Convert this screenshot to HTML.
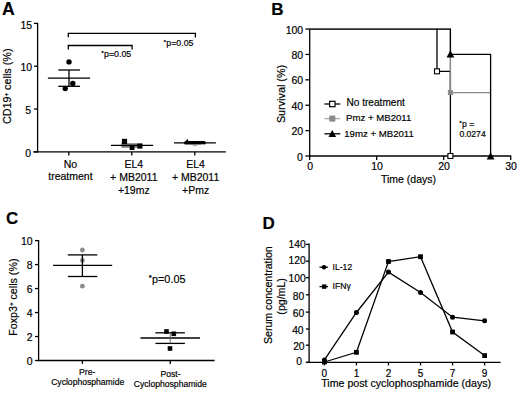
<!DOCTYPE html>
<html><head><meta charset="utf-8"><style>
html,body{margin:0;padding:0;background:#fff;}
svg{display:block;font-family:"Liberation Sans", sans-serif;}
text{stroke:#000;stroke-width:0.18px;}
</style></head><body>
<svg width="520" height="393" viewBox="0 0 520 393">
<rect width="520" height="393" fill="#fff"/>
<text x="1.9" y="14.8" font-size="17.6" text-anchor="start" font-weight="bold" fill="#000" >A</text>
<line x1="37.6" y1="22.800000000000004" x2="37.6" y2="152.5" stroke="#000" stroke-width="1.3"/>
<line x1="34.0" y1="151.9" x2="37.6" y2="151.9" stroke="#000" stroke-width="1.3"/>
<text x="31.200000000000003" y="157.0" font-size="10.5" text-anchor="end" font-weight="normal" fill="#000" >0</text>
<line x1="34.0" y1="109.06666666666668" x2="37.6" y2="109.06666666666668" stroke="#000" stroke-width="1.3"/>
<text x="31.200000000000003" y="114.16666666666667" font-size="10.5" text-anchor="end" font-weight="normal" fill="#000" >5</text>
<line x1="34.0" y1="66.23333333333335" x2="37.6" y2="66.23333333333335" stroke="#000" stroke-width="1.3"/>
<text x="32.1" y="71.33333333333334" font-size="10.5" text-anchor="end" font-weight="normal" fill="#000" >10</text>
<line x1="34.0" y1="23.400000000000006" x2="37.6" y2="23.400000000000006" stroke="#000" stroke-width="1.3"/>
<text x="32.1" y="28.500000000000007" font-size="10.5" text-anchor="end" font-weight="normal" fill="#000" >15</text>
<line x1="33.2" y1="151.9" x2="225.8" y2="151.9" stroke="#000" stroke-width="1.3"/>
<line x1="68.8" y1="151.9" x2="68.8" y2="155.5" stroke="#000" stroke-width="1.3"/>
<line x1="131.8" y1="151.9" x2="131.8" y2="155.5" stroke="#000" stroke-width="1.3"/>
<line x1="194.8" y1="151.9" x2="194.8" y2="155.5" stroke="#000" stroke-width="1.3"/>
<text transform="translate(11.3,86.3) rotate(-90)" font-size="10.8" text-anchor="middle" fill="#000">CD19<tspan font-size="6.2" dy="-3.2" font-weight="bold">+</tspan><tspan dy="3.2"> cells (%)</tspan></text>
<text x="70.4" y="167.8" font-size="10.5" text-anchor="middle" font-weight="normal" fill="#000" >No</text>
<text x="70.4" y="180.3" font-size="10.5" text-anchor="middle" font-weight="normal" fill="#000" >treatment</text>
<text x="133.8" y="168.1" font-size="10.5" text-anchor="middle" font-weight="normal" fill="#000" >EL4</text>
<text x="133.8" y="181.2" font-size="10.5" text-anchor="middle" font-weight="normal" fill="#000" >+ MB2011</text>
<text x="133.8" y="193.8" font-size="10.5" text-anchor="middle" font-weight="normal" fill="#000" >+19mz</text>
<text x="195.6" y="168.1" font-size="10.5" text-anchor="middle" font-weight="normal" fill="#000" >EL4</text>
<text x="195.6" y="181.2" font-size="10.5" text-anchor="middle" font-weight="normal" fill="#000" >+ MB2011</text>
<text x="195.6" y="193.8" font-size="10.5" text-anchor="middle" font-weight="normal" fill="#000" >+Pmz</text>
<line x1="47.9" y1="78.2" x2="90.1" y2="78.2" stroke="#000" stroke-width="1.3"/>
<line x1="58.3" y1="70" x2="80" y2="70" stroke="#000" stroke-width="1.3"/>
<line x1="58.3" y1="86.3" x2="80" y2="86.3" stroke="#000" stroke-width="1.3"/>
<line x1="69" y1="70" x2="69" y2="86.3" stroke="#000" stroke-width="1.3"/>
<circle cx="69" cy="61.9" r="2.7" fill="#000"/>
<circle cx="72.8" cy="83.5" r="2.7" fill="#000"/>
<circle cx="65.2" cy="88.6" r="2.7" fill="#000"/>
<rect x="121.4" y="143.5" width="21" height="4" fill="#222"/>
<line x1="121.4" y1="144.3" x2="142.4" y2="144.3" stroke="#ddd" stroke-width="0.6"/>
<line x1="121.4" y1="146.7" x2="142.4" y2="146.7" stroke="#ddd" stroke-width="0.6"/>
<line x1="111" y1="145.4" x2="153.2" y2="145.4" stroke="#000" stroke-width="1.3"/>
<rect x="121.9" y="138.8" width="5.2" height="5.2" fill="#000" stroke="#000" stroke-width="0"/>
<rect x="129.7" y="145.2" width="4.8" height="4.8" fill="#000" stroke="#000" stroke-width="0"/>
<rect x="137.3" y="143.6" width="5.0" height="5.0" fill="#000" stroke="#000" stroke-width="0"/>
<line x1="174" y1="142.9" x2="215.9" y2="142.9" stroke="#000" stroke-width="1.3"/>
<rect x="184" y="141.1" width="21.8" height="3.5" rx="1.7" fill="#000"/>
<polygon points="185.6,141.6 188.8,141.6 187.2,138.7" fill="#000"/>
<line x1="192.8" y1="145.6" x2="196.6" y2="145.6" stroke="#aaa" stroke-width="1.2"/>
<line x1="200.8" y1="144.6" x2="204.2" y2="144.6" stroke="#bbb" stroke-width="1.0"/>
<polyline points="68.3,37.3 68.3,33.3 195.4,33.3 195.4,37.5" fill="none" stroke="#000" stroke-width="1.3" stroke-linejoin="miter"/>
<polyline points="68.3,49.5 68.3,45.5 132.1,45.5 132.1,49.5" fill="none" stroke="#000" stroke-width="1.3" stroke-linejoin="miter"/>
<text x="101.6" y="57.0" font-size="8.8" fill="#000"><tspan font-size="5.28" dy="-1.94" font-weight="bold">*</tspan><tspan dy="1.94" dx="0.44">p=0.05</tspan></text>
<text x="163.8" y="45.5" font-size="8.8" fill="#000"><tspan font-size="5.28" dy="-1.94" font-weight="bold">*</tspan><tspan dy="1.94" dx="0.44">p=0.05</tspan></text>
<text x="271.2" y="15" font-size="17" text-anchor="start" font-weight="bold" fill="#000" >B</text>
<line x1="309.7" y1="28.449999999999996" x2="309.7" y2="156.6" stroke="#000" stroke-width="1.3"/>
<line x1="305.4" y1="156.0" x2="309.7" y2="156.0" stroke="#000" stroke-width="1.3"/>
<text x="302.8" y="160.6" font-size="10.5" text-anchor="end" font-weight="normal" fill="#000" >0</text>
<line x1="305.4" y1="130.61" x2="309.7" y2="130.61" stroke="#000" stroke-width="1.3"/>
<text x="303.2" y="135.21" font-size="10.5" text-anchor="end" font-weight="normal" fill="#000" >20</text>
<line x1="305.4" y1="105.22" x2="309.7" y2="105.22" stroke="#000" stroke-width="1.3"/>
<text x="303.2" y="109.82" font-size="10.5" text-anchor="end" font-weight="normal" fill="#000" >40</text>
<line x1="305.4" y1="79.83" x2="309.7" y2="79.83" stroke="#000" stroke-width="1.3"/>
<text x="303.2" y="84.42999999999999" font-size="10.5" text-anchor="end" font-weight="normal" fill="#000" >60</text>
<line x1="305.4" y1="54.44" x2="309.7" y2="54.44" stroke="#000" stroke-width="1.3"/>
<text x="303.2" y="59.04" font-size="10.5" text-anchor="end" font-weight="normal" fill="#000" >80</text>
<line x1="305.4" y1="29.049999999999997" x2="309.7" y2="29.049999999999997" stroke="#000" stroke-width="1.3"/>
<text x="303.2" y="33.65" font-size="10.5" text-anchor="end" font-weight="normal" fill="#000" >100</text>
<line x1="309.09999999999997" y1="156.0" x2="511.2" y2="156.0" stroke="#000" stroke-width="1.3"/>
<line x1="309.7" y1="156.0" x2="309.7" y2="159.9" stroke="#000" stroke-width="1.3"/>
<text x="310.09999999999997" y="170.1" font-size="10.5" text-anchor="middle" font-weight="normal" fill="#000" >0</text>
<line x1="376.7" y1="156.0" x2="376.7" y2="159.9" stroke="#000" stroke-width="1.3"/>
<text x="377.09999999999997" y="170.1" font-size="10.5" text-anchor="middle" font-weight="normal" fill="#000" >10</text>
<line x1="443.7" y1="156.0" x2="443.7" y2="159.9" stroke="#000" stroke-width="1.3"/>
<text x="444.09999999999997" y="170.1" font-size="10.5" text-anchor="middle" font-weight="normal" fill="#000" >20</text>
<line x1="510.7" y1="156.0" x2="510.7" y2="159.9" stroke="#000" stroke-width="1.3"/>
<text x="511.09999999999997" y="170.1" font-size="10.5" text-anchor="middle" font-weight="normal" fill="#000" >30</text>
<text x="381" y="182.6" font-size="10.5" text-anchor="start" font-weight="normal" fill="#000" >Time (days)</text>
<text transform="translate(284.6,94) rotate(-90)" font-size="10.8" text-anchor="middle" fill="#000">Survival (%)</text>
<polyline points="309.7,29.049999999999997 450.4,29.049999999999997 450.4,92.525 490.6,92.525" fill="none" stroke="#8a8a8a" stroke-width="1.3" stroke-linejoin="miter"/>
<polyline points="437.0,29.049999999999997 450.4,29.049999999999997 450.4,54.44 490.6,54.44 490.6,156.0" fill="none" stroke="#000" stroke-width="1.3" stroke-linejoin="miter"/>
<polyline points="309.7,29.049999999999997 437.0,29.049999999999997 437.0,71.32435 450.4,71.32435 450.4,156.0" fill="none" stroke="#000" stroke-width="1.3" stroke-linejoin="miter"/>
<line x1="450.4" y1="54.44" x2="450.4" y2="92.525" stroke="#8a8a8a" stroke-width="1.3"/>
<rect x="447.9" y="90.025" width="5" height="5" fill="#8a8a8a" stroke="#8a8a8a" stroke-width="0"/>
<polygon points="446.5,57.44 454.29999999999995,57.44 450.4,50.239999999999995" fill="#000"/>
<polygon points="486.70000000000005,159.4 494.5,159.4 490.6,152.20000000000002" fill="#000"/>
<rect x="434.5" y="68.82435" width="5" height="5" fill="#fff" stroke="#000" stroke-width="1.1"/>
<rect x="447.9" y="153.5" width="5" height="5" fill="#fff" stroke="#000" stroke-width="1.1"/>
<line x1="324.4" y1="104" x2="340.3" y2="104" stroke="#000" stroke-width="1.3"/>
<rect x="329.6" y="101.3" width="5.4" height="5.4" fill="#fff" stroke="#000" stroke-width="1.2"/>
<line x1="324.4" y1="118.6" x2="340.3" y2="118.6" stroke="#aaa" stroke-width="1.3"/>
<rect x="329.3" y="115.6" width="6" height="6" fill="#8a8a8a" stroke="#8a8a8a" stroke-width="0"/>
<line x1="324.4" y1="133.8" x2="340.3" y2="133.8" stroke="#000" stroke-width="1.3"/>
<polygon points="328.5,137.10000000000002 336.1,137.10000000000002 332.3,130.10000000000002" fill="#000"/>
<text x="346.5" y="105.9" font-size="10.1" text-anchor="start" font-weight="normal" fill="#000" >No treatment</text>
<text x="346.0" y="120.9" font-size="9.65" text-anchor="start" font-weight="normal" fill="#000" >Pmz + MB2011</text>
<text x="344.2" y="136.9" font-size="9.65" text-anchor="start" font-weight="normal" fill="#000" >19mz + MB2011</text>
<text x="459.6" y="127" font-size="8.6" fill="#000"><tspan font-size="5.16" dy="-1.89" font-weight="bold">*</tspan><tspan dy="1.89" dx="0.43">p =</tspan></text>
<text x="459.4" y="136.7" font-size="8.6" text-anchor="start" font-weight="normal" fill="#000" >0.0274</text>
<text x="6.0" y="224.3" font-size="17" text-anchor="start" font-weight="bold" fill="#000" >C</text>
<line x1="38.6" y1="240.0" x2="38.6" y2="361.1" stroke="#000" stroke-width="1.3"/>
<line x1="35.0" y1="360.5" x2="38.6" y2="360.5" stroke="#000" stroke-width="1.3"/>
<text x="32.6" y="365.2" font-size="10.5" text-anchor="end" font-weight="normal" fill="#000" >0</text>
<line x1="35.0" y1="336.52" x2="38.6" y2="336.52" stroke="#000" stroke-width="1.3"/>
<text x="32.6" y="341.21999999999997" font-size="10.5" text-anchor="end" font-weight="normal" fill="#000" >2</text>
<line x1="35.0" y1="312.54" x2="38.6" y2="312.54" stroke="#000" stroke-width="1.3"/>
<text x="32.6" y="317.24" font-size="10.5" text-anchor="end" font-weight="normal" fill="#000" >4</text>
<line x1="35.0" y1="288.56" x2="38.6" y2="288.56" stroke="#000" stroke-width="1.3"/>
<text x="32.6" y="293.26" font-size="10.5" text-anchor="end" font-weight="normal" fill="#000" >6</text>
<line x1="35.0" y1="264.58" x2="38.6" y2="264.58" stroke="#000" stroke-width="1.3"/>
<text x="32.6" y="269.28" font-size="10.5" text-anchor="end" font-weight="normal" fill="#000" >8</text>
<line x1="35.0" y1="240.6" x2="38.6" y2="240.6" stroke="#000" stroke-width="1.3"/>
<text x="32.6" y="245.29999999999998" font-size="10.5" text-anchor="end" font-weight="normal" fill="#000" >10</text>
<line x1="38.0" y1="360.5" x2="214.6" y2="360.5" stroke="#000" stroke-width="1.3"/>
<line x1="82.4" y1="360.5" x2="82.4" y2="363.9" stroke="#000" stroke-width="1.3"/>
<line x1="170.2" y1="360.5" x2="170.2" y2="363.9" stroke="#000" stroke-width="1.3"/>
<text x="87.2" y="374.8" font-size="8.6" text-anchor="middle" font-weight="normal" fill="#000" >Pre-</text>
<text x="87.7" y="384.8" font-size="8.6" text-anchor="middle" font-weight="normal" fill="#000" >Cyclophosphamide</text>
<text x="170.6" y="377.0" font-size="8.6" text-anchor="middle" font-weight="normal" fill="#000" >Post-</text>
<text x="170.3" y="387.2" font-size="8.6" text-anchor="middle" font-weight="normal" fill="#000" >Cyclophosphamide</text>
<text transform="translate(16.6,297.2) rotate(-90)" font-size="10.7" text-anchor="middle" fill="#000">Foxp3<tspan font-size="6.2" dy="-3.2" font-weight="bold">+</tspan><tspan dy="3.2"> cells (%)</tspan></text>
<circle cx="82.4" cy="250" r="2.4" fill="#8c8c8c"/>
<circle cx="82.4" cy="260.5" r="2.4" fill="#8c8c8c"/>
<circle cx="82.4" cy="286.2" r="2.4" fill="#8c8c8c"/>
<line x1="53" y1="265.4" x2="112.2" y2="265.4" stroke="#000" stroke-width="1.3"/>
<line x1="67.8" y1="254.9" x2="97.3" y2="254.9" stroke="#000" stroke-width="1.3"/>
<line x1="67.8" y1="276.5" x2="97.3" y2="276.5" stroke="#000" stroke-width="1.3"/>
<line x1="82.4" y1="254.9" x2="82.4" y2="276.5" stroke="#000" stroke-width="1.3"/>
<line x1="140.5" y1="338" x2="200" y2="338" stroke="#000" stroke-width="1.3"/>
<line x1="155.4" y1="332.8" x2="184.9" y2="332.8" stroke="#000" stroke-width="1.3"/>
<line x1="155.4" y1="343.4" x2="184.9" y2="343.4" stroke="#000" stroke-width="1.3"/>
<line x1="170.2" y1="332.8" x2="170.2" y2="343.4" stroke="#666" stroke-width="1.0"/>
<rect x="164.2" y="329.2" width="4.6" height="4.6" fill="#000" stroke="#000" stroke-width="0"/>
<rect x="171.5" y="331.5" width="4.6" height="4.6" fill="#000" stroke="#000" stroke-width="0"/>
<rect x="167.7" y="346.2" width="4.6" height="4.6" fill="#000" stroke="#000" stroke-width="0"/>
<text x="149.0" y="282.5" font-size="10.8" fill="#000"><tspan font-size="6.48" dy="-2.38" font-weight="bold">*</tspan><tspan dy="2.38" dx="0.54">p=0.05</tspan></text>
<text x="262.6" y="228.8" font-size="17" text-anchor="start" font-weight="bold" fill="#000" >D</text>
<line x1="309.1" y1="243.6" x2="309.1" y2="363.0" stroke="#000" stroke-width="1.3"/>
<line x1="305.90000000000003" y1="244.4" x2="309.1" y2="244.4" stroke="#000" stroke-width="1.3"/>
<text x="305.8" y="248.1" font-size="10.3" text-anchor="end" font-weight="normal" fill="#000" >140</text>
<line x1="305.90000000000003" y1="261.2" x2="309.1" y2="261.2" stroke="#000" stroke-width="1.3"/>
<text x="305.8" y="264.0" font-size="10.3" text-anchor="end" font-weight="normal" fill="#000" >120</text>
<line x1="305.90000000000003" y1="277.7" x2="309.1" y2="277.7" stroke="#000" stroke-width="1.3"/>
<text x="305.8" y="281.8" font-size="10.3" text-anchor="end" font-weight="normal" fill="#000" >100</text>
<line x1="305.90000000000003" y1="294.8" x2="309.1" y2="294.8" stroke="#000" stroke-width="1.3"/>
<text x="304.2" y="299.6" font-size="10.3" text-anchor="end" font-weight="normal" fill="#000" >80</text>
<line x1="305.90000000000003" y1="312.1" x2="309.1" y2="312.1" stroke="#000" stroke-width="1.3"/>
<text x="304.2" y="316.9" font-size="10.3" text-anchor="end" font-weight="normal" fill="#000" >60</text>
<line x1="305.90000000000003" y1="329.0" x2="309.1" y2="329.0" stroke="#000" stroke-width="1.3"/>
<text x="303.6" y="333.9" font-size="10.3" text-anchor="end" font-weight="normal" fill="#000" >40</text>
<line x1="305.90000000000003" y1="345.2" x2="309.1" y2="345.2" stroke="#000" stroke-width="1.3"/>
<text x="304.6" y="350.3" font-size="10.3" text-anchor="end" font-weight="normal" fill="#000" >20</text>
<line x1="305.90000000000003" y1="362.4" x2="309.1" y2="362.4" stroke="#000" stroke-width="1.3"/>
<text x="302.0" y="364.5" font-size="10.3" text-anchor="end" font-weight="normal" fill="#000" >0</text>
<line x1="305.90000000000003" y1="362.4" x2="500.6" y2="362.4" stroke="#000" stroke-width="1.3"/>
<line x1="324.4" y1="362.4" x2="324.4" y2="365.4" stroke="#000" stroke-width="1.3"/>
<text x="324.4" y="376.6" font-size="10" text-anchor="middle" font-weight="normal" fill="#000" >0</text>
<line x1="356.44" y1="362.4" x2="356.44" y2="365.4" stroke="#000" stroke-width="1.3"/>
<text x="356.44" y="376.6" font-size="10" text-anchor="middle" font-weight="normal" fill="#000" >1</text>
<line x1="388.47999999999996" y1="362.4" x2="388.47999999999996" y2="365.4" stroke="#000" stroke-width="1.3"/>
<text x="388.47999999999996" y="376.6" font-size="10" text-anchor="middle" font-weight="normal" fill="#000" >2</text>
<line x1="420.52" y1="362.4" x2="420.52" y2="365.4" stroke="#000" stroke-width="1.3"/>
<text x="420.52" y="376.6" font-size="10" text-anchor="middle" font-weight="normal" fill="#000" >5</text>
<line x1="452.55999999999995" y1="362.4" x2="452.55999999999995" y2="365.4" stroke="#000" stroke-width="1.3"/>
<text x="452.55999999999995" y="376.6" font-size="10" text-anchor="middle" font-weight="normal" fill="#000" >7</text>
<line x1="484.59999999999997" y1="362.4" x2="484.59999999999997" y2="365.4" stroke="#000" stroke-width="1.3"/>
<text x="484.59999999999997" y="376.6" font-size="10" text-anchor="middle" font-weight="normal" fill="#000" >9</text>
<text x="321.2" y="387.0" font-size="10.65" text-anchor="start" font-weight="normal" fill="#000" >Time post cyclophosphamide (days)</text>
<text transform="translate(272.4,295.2) rotate(-90)" font-size="10.6" text-anchor="middle" fill="#000">Serum concentration</text>
<text transform="translate(285.3,296.4) rotate(-90)" font-size="10.6" text-anchor="middle" fill="#000">(pg/mL)</text>
<polyline points="324.4,359.9 356.44,312.5 388.47999999999996,272.1 420.52,292.5 452.55999999999995,317.2 484.59999999999997,320.8" fill="none" stroke="#000" stroke-width="1.3" stroke-linejoin="miter"/>
<polyline points="324.4,362 356.44,352.3 388.47999999999996,261.5 420.52,256.7 452.55999999999995,332 484.59999999999997,355.6" fill="none" stroke="#000" stroke-width="1.3" stroke-linejoin="miter"/>
<circle cx="324.4" cy="359.9" r="2.5" fill="#000"/>
<circle cx="356.44" cy="312.5" r="2.5" fill="#000"/>
<circle cx="388.47999999999996" cy="272.1" r="2.5" fill="#000"/>
<circle cx="420.52" cy="292.5" r="2.5" fill="#000"/>
<circle cx="452.55999999999995" cy="317.2" r="2.5" fill="#000"/>
<circle cx="484.59999999999997" cy="320.8" r="2.5" fill="#000"/>
<rect x="322.0" y="359.6" width="4.8" height="4.8" fill="#000" stroke="#000" stroke-width="0"/>
<rect x="354.04" y="349.90000000000003" width="4.8" height="4.8" fill="#000" stroke="#000" stroke-width="0"/>
<rect x="386.08" y="259.1" width="4.8" height="4.8" fill="#000" stroke="#000" stroke-width="0"/>
<rect x="418.12" y="254.29999999999998" width="4.8" height="4.8" fill="#000" stroke="#000" stroke-width="0"/>
<rect x="450.15999999999997" y="329.6" width="4.8" height="4.8" fill="#000" stroke="#000" stroke-width="0"/>
<rect x="482.2" y="353.20000000000005" width="4.8" height="4.8" fill="#000" stroke="#000" stroke-width="0"/>
<line x1="319.5" y1="267.2" x2="328" y2="267.2" stroke="#000" stroke-width="1.3"/>
<circle cx="324" cy="267.2" r="2.3" fill="#000"/>
<line x1="319.5" y1="286.6" x2="328" y2="286.6" stroke="#000" stroke-width="1.3"/>
<rect x="322.0" y="284.40000000000003" width="4.4" height="4.4" fill="#000" stroke="#000" stroke-width="0"/>
<text x="332.6" y="270.1" font-size="8.6" text-anchor="start" font-weight="normal" fill="#000" >IL-12</text>
<text x="332.6" y="288.8" font-size="8.6" text-anchor="start" font-weight="normal" fill="#000" >IFN&#947;</text>
</svg>
</body></html>
